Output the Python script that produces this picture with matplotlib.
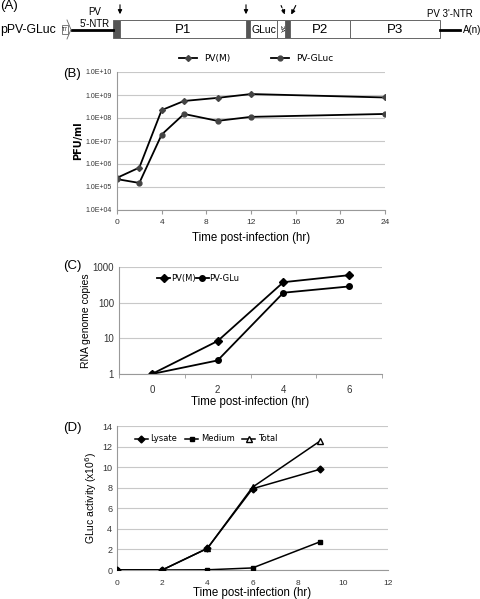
import matplotlib
matplotlib.use("Agg")
import matplotlib.pyplot as plt
import matplotlib.patches as mpatches
import numpy as np

# panel B: virus titer
tB = [0, 2, 4, 6, 9, 12, 24]
pvm_B = [2.5e5, 7e5, 2.2e8, 5.5e8, 7.5e8, 1.1e9, 7.8e8]
gluc_B = [2.2e5, 1.5e5, 1.9e7, 1.5e8, 7.5e7, 1.12e8, 1.5e8]
ticksB = [0, 4, 8, 12, 16, 20, 24]
ylabB = ["1.0E+04", "1.0E+05", "1.0E+06", "1.0E+07", "1.0E+08", "1.0E+09", "1.0E+10"]

# panel C: RNA copies
tC = [0, 2, 4, 6]
pvm_C = [1, 8.4, 375, 590]
gluc_C = [1, 2.4, 190, 285]

# panel D: GLuc activity
tD = [0, 2, 4, 6, 9]
lysate = [0, 0, 2.1, 7.9, 9.8]
medium = [0, 0, 0.02, 0.2, 2.75]
total = [0, 0, 2.1, 8.05, 12.55]

# genome map segments (name, start, end, kind)
segments = [("", 113, 120, "dark"), ("P1", 120, 246, "box"), ("", 246, 250, "dark"),
            ("GLuc", 250, 277, "box"), ("2A", 277, 285, "box"), ("", 285, 290, "dark"),
            ("P2", 290, 350, "box"), ("P3", 350, 440, "box")]

W, H = 480, 599
fig = plt.figure(figsize=(4.8, 5.99), dpi=100)
plt.rcParams['font.family'] = ['Liberation Sans', 'DejaVu Sans']

def ax_px(l, t, r, b):
    return fig.add_axes([l / W, 1 - b / H, (r - l) / W, (b - t) / H])

gray = "#c8c8c8"

# ---- panel A ----
axA = ax_px(0, 0, 480, 45)
axA.set_xlim(0, 480)
axA.set_ylim(45, 0)
axA.axis("off")
y0, y1 = 20, 38
for name, a, b, kind in segments:
    fc = "#555555" if kind == "dark" else "white"
    axA.add_patch(mpatches.Rectangle((a, y0), b - a, y1 - y0, fc=fc, ec="#666666", lw=0.7))
    if name in ("P1", "P2", "P3"):
        axA.text((a + b) / 2, 30, name, ha="center", va="center", fontsize=9.5)
    elif name == "GLuc":
        axA.text((a + b) / 2, 30, name, ha="center", va="center", fontsize=7.5)
    elif name == "2A":
        axA.text((a + b) / 2, 29, "2A", ha="center", va="center", fontsize=4.5, rotation=-90)
axA.plot([72, 113], [30, 30], color="black", lw=2)
axA.plot([440, 460], [30, 30], color="black", lw=2)
axA.add_patch(mpatches.Rectangle((62, 25), 6, 9, fc="white", ec="#666666", lw=0.6))
axA.text(65, 29.5, "T7", fontsize=3.5, ha="center", va="center")
axA.plot([67, 71, 67], [20, 29.5, 39], color="#666666", lw=0.6)
axA.text(0, 0.5, "(A)", fontsize=9.5, va="top")
axA.text(0, 29.5, "pPV-GLuc", fontsize=8.8, va="center")
axA.text(95, 12, "PV", fontsize=7, ha="center", va="center")
axA.text(95, 24, "5'-NTR", fontsize=7, ha="center", va="center")
axA.text(450, 14, "PV 3'-NTR", fontsize=7, ha="center", va="center")
axA.text(463, 30, "A(n)", fontsize=7, va="center")
for x in (120, 246):
    axA.annotate("", xy=(x, 17), xytext=(x, 2),
                 arrowprops=dict(arrowstyle="-|>", color="black", lw=0.8, mutation_scale=6))
axA.annotate("", xy=(286, 17), xytext=(280, 3),
             arrowprops=dict(arrowstyle="-|>", color="black", lw=0.8, ls=(0, (2, 1.5)), mutation_scale=6))
axA.annotate("", xy=(290, 17), xytext=(297, 3),
             arrowprops=dict(arrowstyle="-|>", color="black", lw=0.8, mutation_scale=6))

def style(ax):
    for s in ("top", "right"):
        ax.spines[s].set_visible(False)
    ax.spines["left"].set_color("#999999")
    ax.spines["bottom"].set_color("#999999")
    ax.yaxis.grid(True, color=gray, lw=0.8)
    ax.set_axisbelow(True)
    ax.tick_params(axis="y", length=0, colors="#333333")
    ax.tick_params(axis="x", colors="#333333", length=3, color="#999999")

# ---- panel B ----
axB = ax_px(117, 72, 385, 210)
axB.plot(tB, pvm_B, color="black", lw=1.3, marker="D", ms=3, mfc="#444444", mec="#444444", label="PV(M)")
axB.plot(tB, gluc_B, color="black", lw=1.3, marker="o", ms=3.5, mfc="#444444", mec="#444444", label="PV-GLuc")
axB.set_yscale("log")
axB.set_ylim(1e4, 1e10)
axB.set_xlim(0, 24)
axB.set_xticks(ticksB)
axB.set_yticks([10.0 ** k for k in range(4, 11)])
axB.set_yticklabels(ylabB)
axB.minorticks_off()
style(axB)
axB.tick_params(labelsize=5)
axB.tick_params(axis="x", labelsize=6)
axB.set_ylabel("PFU/ml", fontsize=7, fontweight="bold", family="DejaVu Sans", labelpad=2)
axB.set_xlabel("Time post-infection (hr)", fontsize=8.3)
axB.legend(loc="lower center", bbox_to_anchor=(0.52, 1.03), ncol=2, frameon=False,
           handlelength=2, columnspacing=4.5, borderpad=0,
           prop={"family": "DejaVu Sans", "size": 6.5})
fig.text(63 / W, 1 - 74 / H, "(B)", fontsize=9.5, va="center")

# ---- panel C ----
axC = ax_px(119, 267, 382, 374)
axC.plot(tC, pvm_C, color="black", lw=1.3, marker="D", ms=4, label="PV(M)")
axC.plot(tC, gluc_C, color="black", lw=1.3, marker="o", ms=4, label="PV-GLu")
axC.set_yscale("log")
axC.set_ylim(1, 1000)
axC.set_xlim(-1, 7)
axC.set_xticks(tC)
axC.set_xticks([-1, 1, 3, 5, 7], minor=True)
axC.set_yticks([1, 10, 100, 1000])
axC.set_yticklabels(["1", "10", "100", "1000"])
axC.yaxis.set_minor_locator(matplotlib.ticker.NullLocator())
style(axC)
axC.tick_params(axis="x", which="major", length=0, labelsize=7, pad=8)
axC.tick_params(axis="x", which="minor", length=3, color="#999999")
axC.tick_params(axis="y", labelsize=7)
axC.set_ylabel("RNA genome copies", fontsize=7.5, labelpad=1)
axC.set_xlabel("Time post-infection (hr)", fontsize=8.3, labelpad=1)
axC.legend(loc="upper left", bbox_to_anchor=(0.13, 0.97), ncol=2, frameon=False,
           handlelength=1.5, columnspacing=0.1, handletextpad=0.1, borderpad=0,
           prop={"family": "DejaVu Sans", "size": 6})
fig.text(63 / W, 1 - 266 / H, "(C)", fontsize=9.5, va="center")

# ---- panel D ----
axD = ax_px(117, 426, 388, 570)
axD.plot(tD, lysate, color="black", lw=1.1, marker="D", ms=3.5, label="Lysate", zorder=3)
axD.plot(tD, medium, color="black", lw=1.1, marker="s", ms=3.5, label="Medium", zorder=3)
axD.plot(tD, total, color="black", lw=1.1, marker="^", ms=4.5, mfc="white", label="Total", zorder=2)
axD.set_ylim(0, 14)
axD.set_xlim(0, 12)
axD.set_xticks(range(0, 13, 2))
axD.set_yticks(range(0, 15, 2))
style(axD)
axD.tick_params(axis="x", length=0, labelsize=6, pad=7)
axD.tick_params(axis="y", labelsize=6.5)
axD.set_ylabel("GLuc activity (x10$^6$)", fontsize=7.5, labelpad=2)
axD.set_xlabel("Time post-infection (hr)", fontsize=8.3, labelpad=0)
axD.legend(loc="upper left", bbox_to_anchor=(0.05, 0.97), ncol=3, frameon=False,
           handlelength=1.6, columnspacing=0.9, handletextpad=0.3, borderpad=0,
           prop={"family": "DejaVu Sans", "size": 6})
fig.text(63 / W, 1 - 428 / H, "(D)", fontsize=9.5, va="center")

fig.savefig("out.png", dpi=100)
